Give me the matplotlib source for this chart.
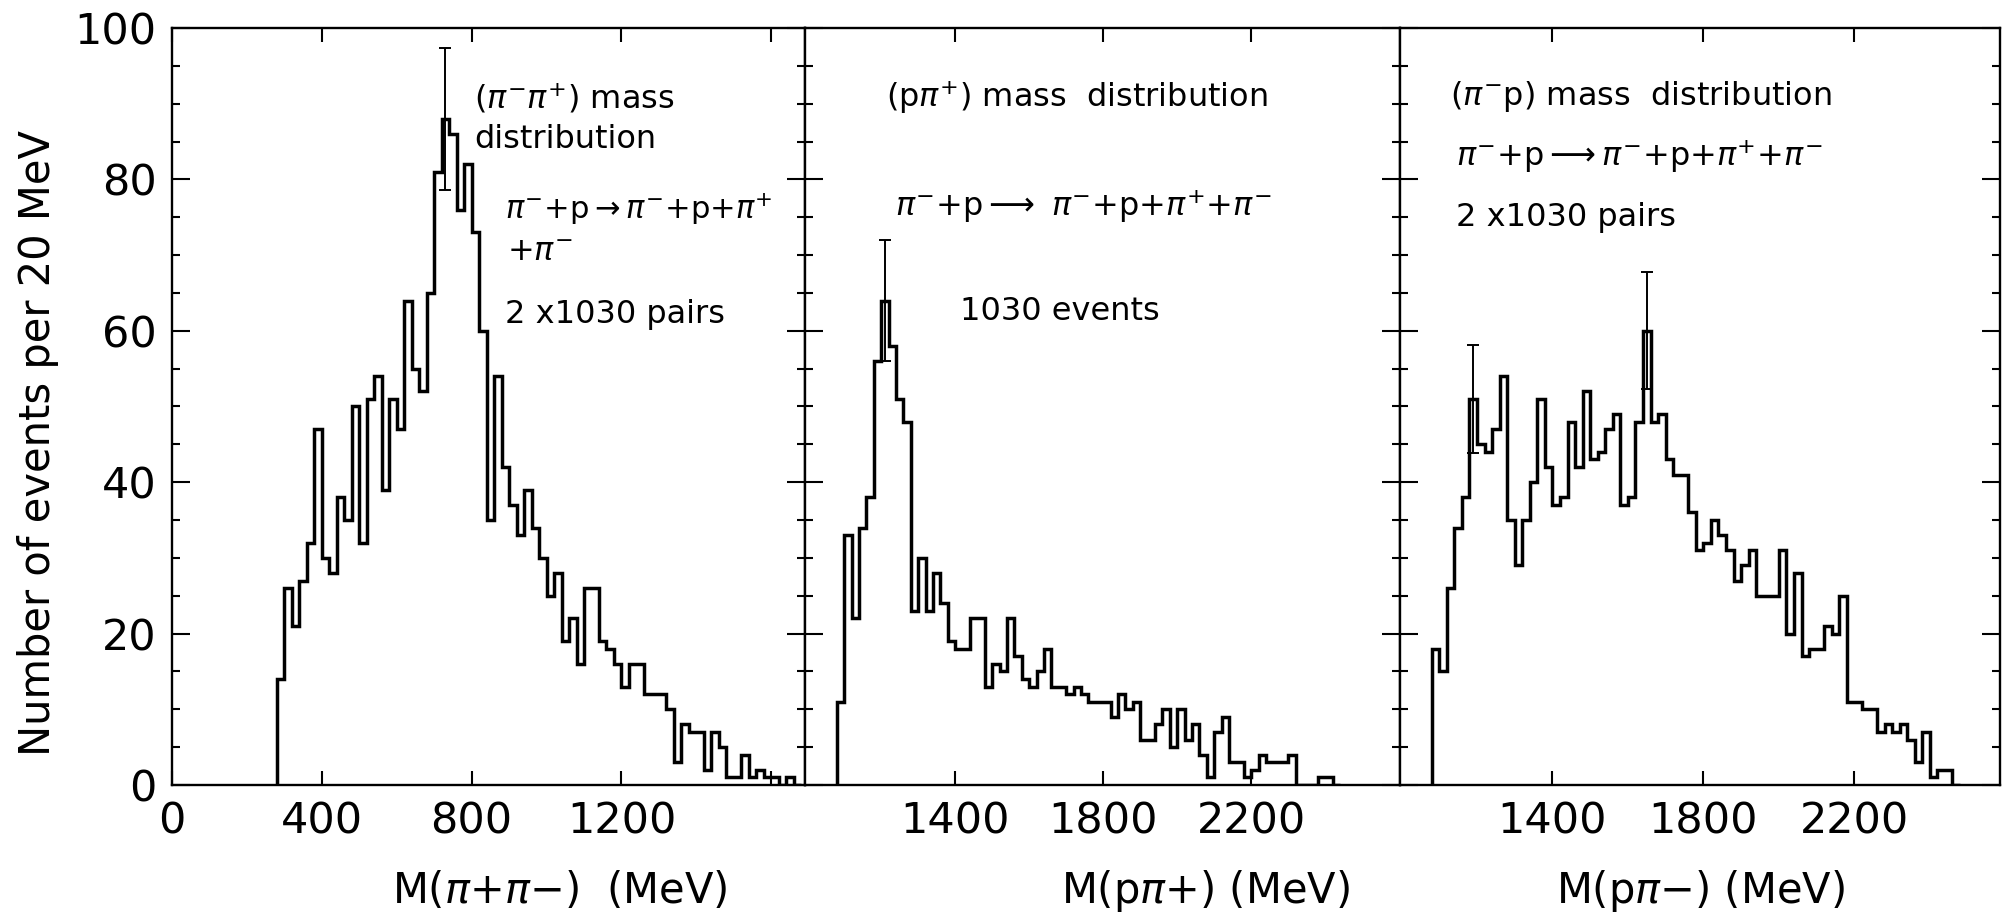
import numpy as np
import matplotlib
matplotlib.use('Agg')
import matplotlib.pyplot as plt
from matplotlib.ticker import FixedLocator, MultipleLocator

BIN_WIDTH = 20  # MeV

# M(pi+ pi-): events per 20 MeV bin, first bin starts at 280 MeV (2 x 1030 pairs)
pipi_start = 280
pipi_counts = [14, 26, 21, 27, 32, 47, 30, 28, 38, 35,
               50, 32, 51, 54, 39, 51, 47, 64, 55, 52,
               65, 81, 88, 86, 76, 82, 73, 60, 35, 54,
               42, 37, 33, 39, 34, 30, 25, 28, 19, 22,
               16, 26, 26, 19, 18, 16, 13, 16, 16, 12,
               12, 12, 10, 3, 8, 7, 7, 2, 7, 5,
               1, 1, 4, 1, 2, 1, 1, 0, 1, 0]

# M(p pi+): first bin starts at 1080 MeV (1030 events)
ppip_start = 1080
ppip_counts = [11, 33, 22, 34, 38, 56, 64, 58, 51, 48,
               23, 30, 23, 28, 24, 19, 18, 18, 22, 22,
               13, 16, 15, 22, 17, 14, 13, 15, 18, 13,
               13, 12, 13, 12, 11, 11, 11, 9, 12, 10,
               11, 6, 6, 8, 10, 5, 10, 6, 8, 4,
               1, 7, 9, 3, 3, 1, 2, 4, 3, 3,
               3, 4, 0, 0, 0, 1, 1, 0]

# M(p pi-): first bin starts at 1080 MeV (2 x 1030 pairs)
ppim_start = 1080
ppim_counts = [18, 15, 26, 34, 38, 51, 45, 44, 47, 54,
               35, 29, 35, 40, 51, 42, 37, 38, 48, 42,
               52, 43, 44, 47, 49, 37, 38, 48, 60, 48,
               49, 43, 41, 41, 36, 31, 32, 35, 33, 31,
               27, 29, 31, 25, 25, 25, 31, 20, 28, 17,
               18, 18, 21, 20, 25, 11, 11, 10, 10, 7,
               8, 7, 8, 6, 3, 7, 1, 2, 2, 0]

# lower edges of the bins that carry a sqrt(N) error bar
pipi_err_bins = [720]
ppip_err_bins = [1200]
ppim_err_bins = [1180, 1640]

pipi_xticks = [0, 400, 800, 1200, 1600]
pipi_xticklabels = ['0', '400', '800', '1200', '']
p_xticks = [1400, 1800, 2200]
p_xticklabels = ['1400', '1800', '2200']
yticks = [0, 20, 40, 60, 80, 100]

plt.rcParams['font.family'] = ['DejaVu Sans']
plt.rcParams['mathtext.fontset'] = 'dejavusans'

W, H = 2014, 922
fig = plt.figure(figsize=(W / 100, H / 100), dpi=100)
fig.patch.set_facecolor('white')

TOP, BOTTOM = 28, 785


def axes_px(x0, x1):
    return fig.add_axes([x0 / W, 1 - BOTTOM / H, (x1 - x0) / W, (BOTTOM - TOP) / H])


def draw_panel(ax, start, counts, err_bins, xlim, xticks, xticklabels, show_y):
    counts = np.asarray(counts, dtype=float)
    edges = start + BIN_WIDTH * np.arange(len(counts) + 1)
    ax.stairs(counts, edges, baseline=0, color='black', lw=2.5)
    for lo in err_bins:
        n = counts[(lo - start) // BIN_WIDTH]
        ax.errorbar(lo + BIN_WIDTH / 2, n, yerr=np.sqrt(n), fmt='none',
                    ecolor='black', elinewidth=1.4, capsize=4, capthick=1.4)
    ax.set_xlim(*xlim)
    ax.set_ylim(0, 100)
    ax.xaxis.set_major_locator(FixedLocator(xticks))
    ax.set_xticklabels(xticklabels)
    ax.yaxis.set_major_locator(FixedLocator(yticks))
    ax.yaxis.set_minor_locator(MultipleLocator(5))
    ax.tick_params(axis='both', which='both', direction='in', width=1.5,
                   top=True, bottom=True, left=True, right=True)
    ax.tick_params(axis='y', which='major', length=13)
    ax.tick_params(axis='y', which='minor', length=6)
    ax.tick_params(axis='x', which='major', length=10, labelsize=31, pad=11)
    ax.tick_params(axis='y', labelsize=31, pad=11, labelleft=show_y)
    for s in ax.spines.values():
        s.set_linewidth(1.7)


ax1 = axes_px(172, 805)
ax2 = axes_px(805, 1400)
ax3 = axes_px(1400, 2000)

draw_panel(ax1, pipi_start, pipi_counts, pipi_err_bins, (0, 1690),
           pipi_xticks, pipi_xticklabels, True)
draw_panel(ax2, ppip_start, ppip_counts, ppip_err_bins, (994, 2602),
           p_xticks, p_xticklabels, False)
draw_panel(ax3, ppim_start, ppim_counts, ppim_err_bins, (996, 2586),
           p_xticks, p_xticklabels, False)

reaction = r'$\pi^{-}$+p$\longrightarrow\pi^{-}$+p+$\pi^{+}$+$\pi^{-}$'
tfs = 23

# panel 1 annotations
ax1.text(0.477, 0.9075, r'($\pi^{-}\pi^{+}$) mass', transform=ax1.transAxes,
         fontsize=tfs, va='center')
ax1.text(0.477, 0.853, 'distribution', transform=ax1.transAxes, fontsize=tfs, va='center')
ax1.text(0.526, 0.761, r'$\pi^{-}$+p$\rightarrow\pi^{-}$+p+$\pi^{+}$',
         transform=ax1.transAxes, fontsize=22, va='center')
ax1.text(0.529, 0.705, r'+$\pi^{-}$', transform=ax1.transAxes, fontsize=tfs, va='center')
ax1.text(0.526, 0.622, '2 x1030 pairs', transform=ax1.transAxes, fontsize=tfs, va='center')

# panel 2 annotations
ax2.text(0.1355, 0.909, r'(p$\pi^{+}$) mass  distribution', transform=ax2.transAxes,
         fontsize=tfs, va='center')
ax2.text(0.152, 0.765, r'$\pi^{-}$+p$\longrightarrow$ $\pi^{-}$+p+$\pi^{+}$+$\pi^{-}$',
         transform=ax2.transAxes, fontsize=tfs, va='center')
ax2.text(0.26, 0.626, '1030 events', transform=ax2.transAxes, fontsize=tfs, va='center')

# panel 3 annotations
ax3.text(0.084, 0.909, r'($\pi^{-}$p) mass  distribution', transform=ax3.transAxes,
         fontsize=tfs, va='center')
ax3.text(0.094, 0.831, reaction, transform=ax3.transAxes, fontsize=tfs, va='center')
ax3.text(0.094, 0.750, '2 x1030 pairs', transform=ax3.transAxes, fontsize=tfs, va='center')

# axis titles
fig.text(38 / W, 1 - 443 / H, 'Number of events per 20 MeV', rotation=90,
         ha='center', va='center', fontsize=30)
fig.text(560 / W, 1 - 891 / H, r'M($\pi$+$\pi$$-$)  (MeV)', ha='center', va='center', fontsize=30)
fig.text(1205 / W, 1 - 891 / H, r'M(p$\pi$+) (MeV)', ha='center', va='center', fontsize=30)
fig.text(1700 / W, 1 - 891 / H, r'M(p$\pi$$-$) (MeV)', ha='center', va='center', fontsize=30)

fig.savefig('out.png', dpi=100, facecolor='white')
